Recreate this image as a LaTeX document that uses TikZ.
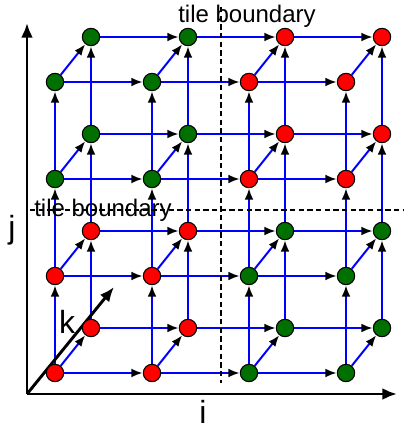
\documentclass[tikz,border=0pt]{standalone}
\usepackage{fontspec}
\setmainfont{Liberation Sans}
\usetikzlibrary{arrows.meta,backgrounds}
\definecolor{tilegreen}{RGB}{0,112,0}
\definecolor{tilered}{RGB}{255,0,0}
\begin{document}
\begin{tikzpicture}[x=0.75pt,y=0.75pt,
  site/.style={circle,draw=black,line width=0.8pt,minimum size=13pt,inner sep=0pt},
  dep/.style={blue,line width=1.5pt,-{Latex[black,length=8.5pt,width=6.5pt]}},
  axis/.style={black,line width=2.2pt,-{Latex[length=11pt,width=9pt]}},
  boundary/.style={black,line width=1pt,dash pattern=on 4pt off 2.5pt},
  axislabel/.style={font=\fontsize{24}{28}\selectfont,inner sep=0pt},
  tilelabel/.style={font=\fontsize{18}{21}\selectfont,inner sep=0pt}]
  \useasboundingbox (0,0) rectangle (404,429);
  % iteration points, front (k=0) and back (k=1)
  \foreach \i in {0,...,3}{
    \foreach \j in {0,...,3}{
      \pgfmathtruncatemacro\tile{int(\i/2)+int(\j/2)}
      \ifodd\tile \def\sitecol{tilegreen}\else \def\sitecol{tilered}\fi
      \node[site,fill=\sitecol] (f-\i-\j) at ({55+97*\i},{56+97*\j}) {};
      \node[site,fill=\sitecol] (b-\i-\j) at ({91+97*\i},{101+97*\j}) {};
    }
  }
  \begin{scope}[on background layer]
    \foreach \i in {0,...,3}{
      \foreach \j in {0,...,3}{
        \draw[dep] (f-\i-\j) -- (b-\i-\j);
      }
    }
    \foreach \i [count=\ni] in {0,1,2}{
      \foreach \j in {0,...,3}{
        \draw[dep] (f-\i-\j) -- (f-\ni-\j);
        \draw[dep] (b-\i-\j) -- (b-\ni-\j);
        \draw[dep] (f-\j-\i) -- (f-\j-\ni);
        \draw[dep] (b-\j-\i) -- (b-\j-\ni);
      }
    }
    \coordinate (origin) at (27,35);
    \coordinate (iend) at (397,35);
    \coordinate (jend) at (27,406);
    \coordinate (kend) at (114,142);
    \draw[axis] (origin) -- (iend);
    \draw[axis] (origin) -- (jend);
    \draw[axis] (origin) -- (kend);
  \end{scope}
  \node[axislabel] (ilabel) at (203,17) {i};
  \node[axislabel] (jlabel) at (12,199) {j};
  \node[axislabel] (klabel) at (67,107) {k};
  \draw[boundary] (221,422) -- (221,46);
  \draw[boundary] (30,219) -- (404,219);
  \node[tilelabel,anchor=base] (tiletop) at (247,406) {tile boundary};
  \node[tilelabel,anchor=base] (tileleft) at (103,212) {tile boundary};
\end{tikzpicture}
\end{document}
